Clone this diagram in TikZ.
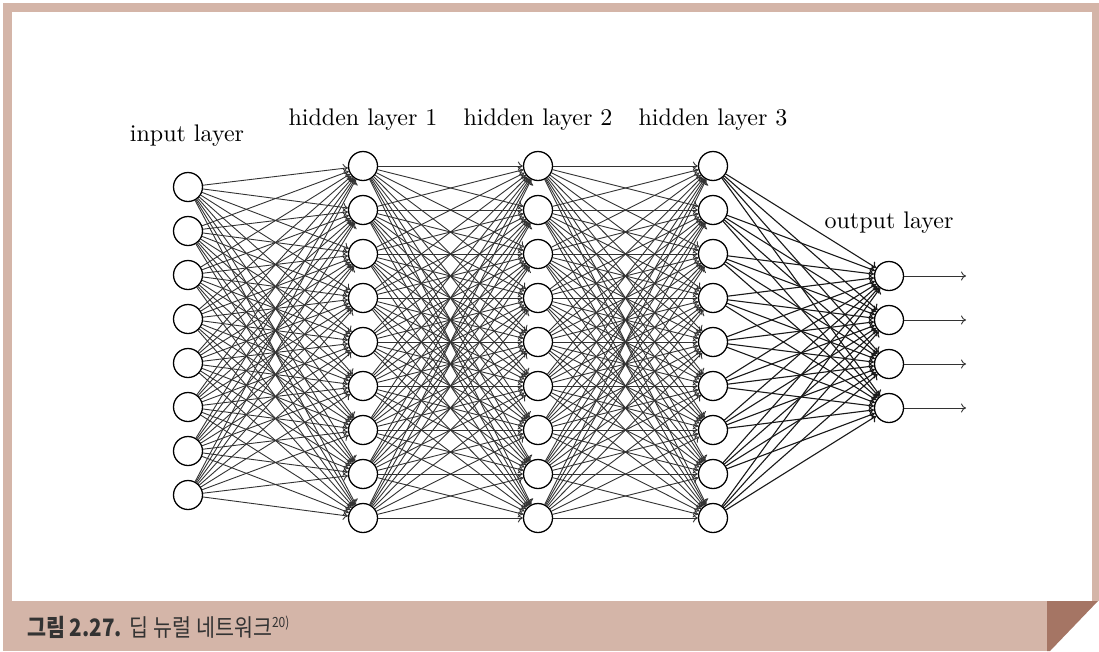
\documentclass[tikz,border=0pt]{standalone}
\usepackage{graphicx}
\usepackage{fontspec}
\newfontfamily\krfont{Noto Sans CJK KR}
\usetikzlibrary{arrows.meta}

\definecolor{framelight}{HTML}{D4B5A8}
\definecolor{framedark}{HTML}{A57564}
\definecolor{captext}{HTML}{333333}

\tikzset{
  neuron/.style={circle, draw=black, line width=1.3pt, fill=white,
                 minimum size=29pt, inner sep=0pt},
  edge/.style={line width=0.9pt, draw=black!80, -{To[length=5pt,width=9pt]}},
  outedge/.style={edge, line width=1.1pt, draw=black!90},
  layerlabel/.style={anchor=base, inner sep=0pt, text=black},
  captionstyle/.style={anchor=base west, inner sep=0pt, text=captext}
}
\newcommand{\lbl}[1]{\scalebox{2.4}{#1}}

\begin{document}
\begin{tikzpicture}[x=1pt, y=-1pt]
  % page and frame
  \useasboundingbox (0,0) rectangle (1099,651);
  \fill[white] (0,0) rectangle (1099,651);
  \fill[framelight] (3,3) rectangle (1099,601);
  \fill[white] (12,12) rectangle (1092,601);
  \fill[framelight] (3,601) rectangle (1047,651);
  \fill[framedark] (1047,601) -- (1098,601) -- (1050,651) -- (1047,651) -- cycle;

  % caption
  \node[captionstyle] (cap) at (27,636)
    {\krfont\fontsize{24}{28}\selectfont\scalebox{0.86}[1]{\textbf{그림 2.27.}\hspace{9pt}딥 뉴럴 네트워크\raisebox{9pt}{\fontsize{14}{15}\selectfont 20)}}};

  % neurons
  \foreach \i in {1,...,8}
    \node[neuron] (I-\i) at (188,{187+44*(\i-1)}) {};
  \foreach \i in {1,...,9} {
    \node[neuron] (A-\i) at (363,{166+44*(\i-1)}) {};
    \node[neuron] (B-\i) at (538,{166+44*(\i-1)}) {};
    \node[neuron] (C-\i) at (713,{166+44*(\i-1)}) {};
  }
  \foreach \i in {1,...,4} {
    \node[neuron] (O-\i) at (889,{276+44*(\i-1)}) {};
    \coordinate (E-\i) at (966,{276+44*(\i-1)});
  }

  % connections
  \foreach \s in {1,...,8}
    \foreach \d in {1,...,9}
      \draw[edge] (I-\s) -- (A-\d);
  \foreach \s in {1,...,9}
    \foreach \d in {1,...,9} {
      \draw[edge] (A-\s) -- (B-\d);
      \draw[edge] (B-\s) -- (C-\d);
    }
  \foreach \s in {1,...,9}
    \foreach \d in {1,...,4}
      \draw[outedge] (C-\s) -- (O-\d);
  \foreach \i in {1,...,4}
    \draw[edge] (O-\i) -- (E-\i);

  % layer labels
  \node[layerlabel] (Lin) at (187,141) {\lbl{input layer}};
  \node[layerlabel] (L1) at (363,125) {\lbl{hidden layer 1}};
  \node[layerlabel] (L2) at (538,125) {\lbl{hidden layer 2}};
  \node[layerlabel] (L3) at (713,125) {\lbl{hidden layer 3}};
  \node[layerlabel] (Lout) at (889,228) {\lbl{output layer}};
\end{tikzpicture}
\end{document}
